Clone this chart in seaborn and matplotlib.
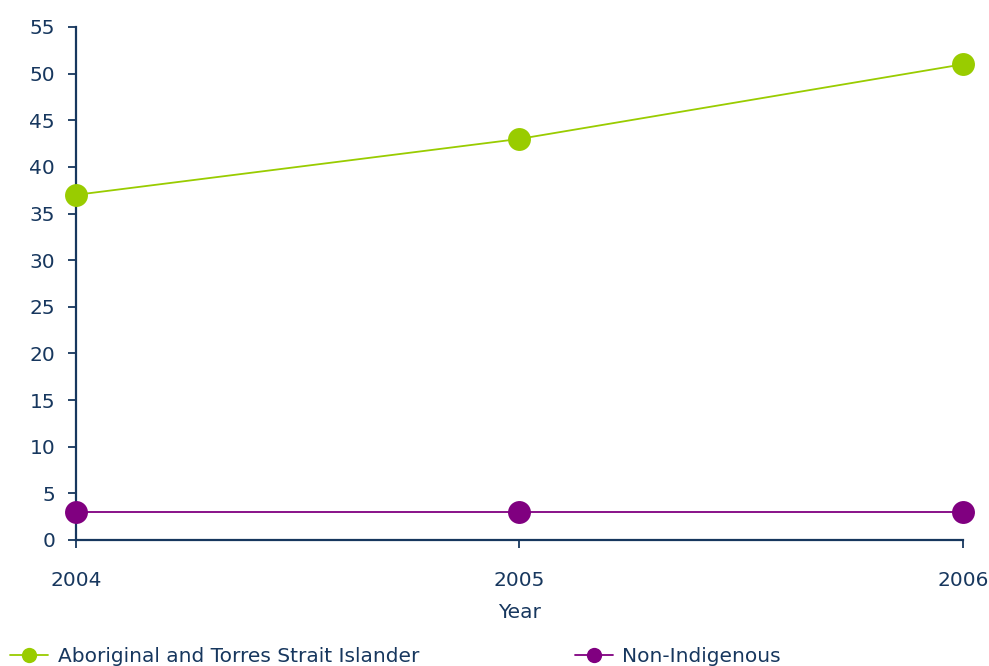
import matplotlib
matplotlib.use("Agg")
import matplotlib.pyplot as plt
import seaborn as sns
import pandas as pd

# Rates by year for each population group
years = [2004, 2005, 2006]
indigenous = [37, 43, 51]
non_indigenous = [3, 3, 3]
series_names = ["Aboriginal and Torres Strait Islander", "Non-Indigenous"]
y_ticks = list(range(0, 60, 5))

navy = "#17375E"
green = "#99CC00"
purple = "#800080"

df = pd.DataFrame({
    "Year": years * 2,
    "Value": indigenous + non_indigenous,
    "Group": [series_names[0]] * len(years) + [series_names[1]] * len(years),
})

sns.set_theme(style="white")
plt.rcParams["font.family"] = ["DejaVu Sans"]

fig = plt.figure(figsize=(9.89, 6.66), dpi=100)
ax = fig.add_axes([0.0768, 0.1892, 0.8969, 0.7703])

sns.lineplot(
    data=df, x="Year", y="Value", hue="Group",
    palette={series_names[0]: green, series_names[1]: purple},
    marker="o", markersize=16.5, markeredgewidth=0, linewidth=1.3,
    ax=ax, legend=False, clip_on=False, zorder=5,
)

ax.set_xlim(2004, 2006)
ax.set_ylim(0, 55)
ax.set_xticks(years)
ax.set_xticklabels([str(y) for y in years])
ax.set_yticks(y_ticks)

for side in ("top", "right"):
    ax.spines[side].set_visible(False)
for side in ("left", "bottom"):
    ax.spines[side].set_color(navy)
    ax.spines[side].set_linewidth(1.6)

fs = 14.5
ax.tick_params(axis="both", bottom=True, left=True, colors=navy, labelcolor=navy,
               labelsize=fs, direction="out", length=6, width=1.3)
ax.tick_params(axis="y", pad=9)
ax.tick_params(axis="x", pad=16)
ax.set_xlabel("Year", color=navy, fontsize=fs, labelpad=10)
ax.set_ylabel("")

handles = [
    plt.Line2D([], [], color=green, marker="o", markersize=11, markeredgewidth=0, linewidth=1.3),
    plt.Line2D([], [], color=purple, marker="o", markersize=11, markeredgewidth=0, linewidth=1.3),
]
leg = fig.legend(handles, series_names, loc="lower left", bbox_to_anchor=(-0.008, -0.027),
                 ncol=2, frameon=False, fontsize=fs, handlelength=1.9,
                 handletextpad=0.45, columnspacing=7.75)
for t in leg.get_texts():
    t.set_color(navy)

fig.savefig("out.png", dpi=100)
